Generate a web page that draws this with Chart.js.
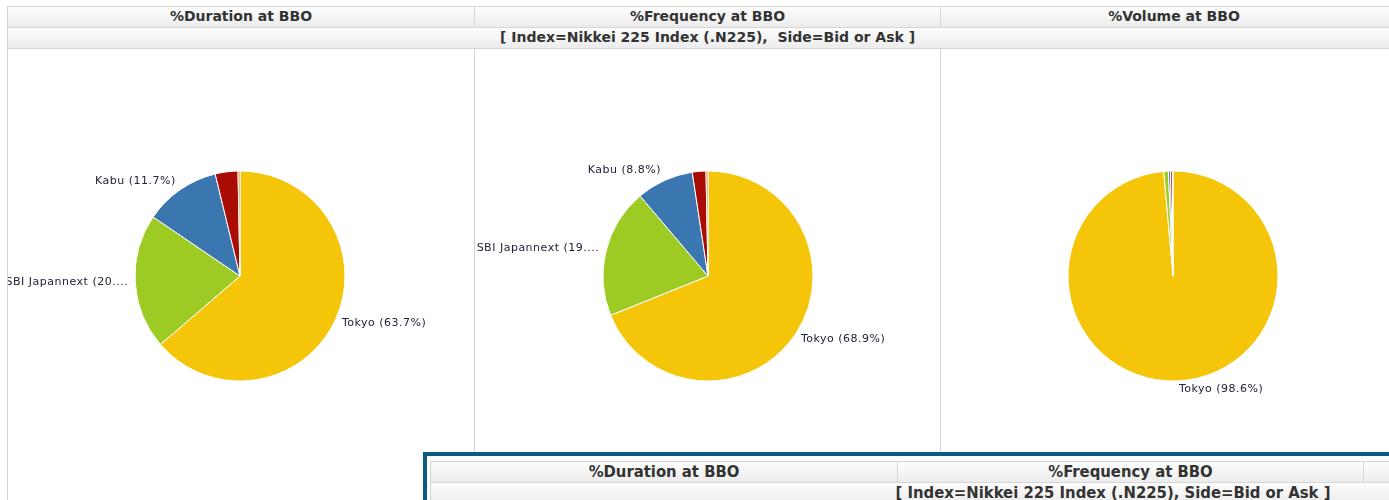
<!DOCTYPE html>
<html>
<head>
<meta charset="utf-8">
<script src="https://cdn.jsdelivr.net/npm/chart.js@4.4.1/dist/chart.umd.min.js"></script>
<style>
  html, body { margin: 0; padding: 0; background: #fff; }
  body { width: 1389px; height: 500px; overflow: hidden; position: relative; font-family: "DejaVu Sans", sans-serif; }
  .abs { position: absolute; box-sizing: border-box; }
  .hdr { background: linear-gradient(#fdfdfd, #ececec); border: 1px solid #d6d6d6; color: #333; font-weight: bold;
         font-size: 14px; text-align: center; line-height: 19px; white-space: nowrap; overflow: hidden; }
  .vline { position: absolute; width: 1px; background: #d3d3d3; }
  .panel { position: absolute; }
  .ovl { position: absolute; left: 423px; top: 452px; width: 1000px; height: 100px; border-top: 4px solid #0b5a82;
         border-left: 4px solid #0b5a82; background: #fff; box-sizing: border-box; }
  .ohdr { background: linear-gradient(#fdfdfd, #ececec); border: 1px solid #d6d6d6; color: #333;
          font-family: "DejaVu Sans Condensed", "DejaVu Sans", sans-serif; font-size: 16.5px; text-align: center;
          line-height: 19px; white-space: nowrap; overflow: hidden; font-weight: bold; }
</style>
</head>
<body>
<!-- main header table -->
<div class="abs hdr" style="left:7px;top:6px;width:468px;height:22px;">%Duration at BBO</div>
<div class="abs hdr" style="left:474px;top:6px;width:467px;height:22px;">%Frequency at BBO</div>
<div class="abs hdr" style="left:940px;top:6px;width:468px;height:22px;">%Volume at BBO</div>
<div class="abs hdr" style="left:7px;top:27px;width:1401px;height:22px;">[ Index=Nikkei 225 Index (.N225),&nbsp; Side=Bid or Ask ]</div>
<div class="vline" style="left:7px;top:48px;height:452px;"></div>
<div class="vline" style="left:474px;top:48px;height:452px;"></div>
<div class="vline" style="left:940px;top:48px;height:452px;"></div>

<div class="panel" style="left:8px;top:49px;width:464px;height:454px;"><canvas id="c1"></canvas></div>
<div class="panel" style="left:475px;top:49px;width:466px;height:454px;"><canvas id="c2"></canvas></div>
<div class="panel" style="left:941px;top:49px;width:464px;height:454px;"><canvas id="c3"></canvas></div>

<!-- overlay -->
<div class="ovl">
  <div class="abs ohdr" style="left:3px;top:5px;width:468px;height:22px;">%Duration at BBO</div>
  <div class="abs ohdr" style="left:470px;top:5px;width:467px;height:22px;">%Frequency at BBO</div>
  <div class="abs ohdr" style="left:936px;top:5px;width:468px;height:22px;"></div>
  <div class="abs ohdr" style="left:3px;top:26px;width:1366px;height:22px;">[ Index=Nikkei 225 Index (.N225), Side=Bid or Ask ]</div>
</div>

<script>
const categories = ["Tokyo", "SBI Japannext", "Kabu", "Chi-X Japan", "Osaka"];
const durationValues = [63.7, 20.8, 11.7, 3.5, 0.3];
const frequencyValues = [68.9, 19.9, 8.8, 2.1, 0.3];
const volumeValues = [98.6, 0.7, 0.3, 0.3, 0.1];
const sliceColors = ["#F4C509", "#9DCB23", "#3A76AF", "#A90C02", "#E0741C"];

const labelPlugin = {
  id: 'sliceLabels',
  afterDatasetsDraw(chart) {
    const ctx = chart.ctx;
    const meta = chart.getDatasetMeta(0);
    const data = chart.data.datasets[0].data;
    const total = data.reduce((a, b) => a + b, 0);
    ctx.save();
    ctx.font = '11px "DejaVu Sans", sans-serif';
    ctx.letterSpacing = '0.5px';
    ctx.fillStyle = '#22223a';
    ctx.textBaseline = 'middle';
    meta.data.forEach((arc, i) => {
      const pct = data[i] / total * 100;
      if (pct < 5) return;
      const p = arc.getProps(['startAngle', 'endAngle', 'x', 'y', 'outerRadius'], true);
      const mid = (p.startAngle + p.endAngle) / 2;
      const r = p.outerRadius + 6;
      const c = Math.cos(mid), s = Math.sin(mid);
      const px = p.x + c * r;
      const py = p.y + s * r + (s < 0 ? 5 * s : 2 * s);
      let text = chart.data.labels[i] + ' (' + data[i].toFixed(1) + '%)';
      if (text.length > 18) text = text.slice(0, 18) + '...';
      ctx.textAlign = c >= 0 ? 'left' : 'right';
      ctx.fillText(text, px + (c >= 0 ? 1 : -1), py);
    });
    ctx.restore();
  }
};

function makePie(id, values) {
  new Chart(document.getElementById(id), {
    type: 'pie',
    data: {
      labels: categories,
      datasets: [{
        data: values,
        backgroundColor: sliceColors,
        borderColor: '#ffffff',
        borderWidth: 1,
        radius: 105
      }]
    },
    options: {
      responsive: true,
      maintainAspectRatio: false,
      animation: false,
      layout: { padding: 0 },
      plugins: { legend: { display: false }, tooltip: { enabled: false } }
    },
    plugins: [labelPlugin]
  });
}
makePie('c1', durationValues);
makePie('c2', frequencyValues);
makePie('c3', volumeValues);
</script>
</body>
</html>
